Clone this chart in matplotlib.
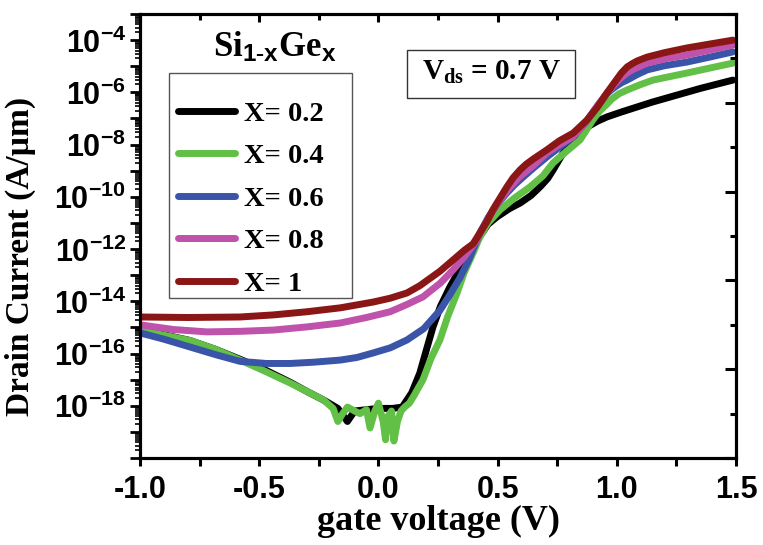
import numpy as np
import matplotlib
matplotlib.use("Agg")
from matplotlib import pyplot as plt
from matplotlib.patches import Rectangle
from matplotlib.ticker import FixedLocator, MultipleLocator, FuncFormatter, NullFormatter

plt.rcParams['mathtext.fontset'] = 'custom'
plt.rcParams['mathtext.rm'] = 'Liberation Serif:bold'
plt.rcParams['mathtext.bf'] = 'Liberation Serif:bold'
plt.rcParams['mathtext.sf'] = 'Liberation Sans:bold'
plt.rcParams['mathtext.it'] = 'Liberation Serif:bold:italic'

# log10 of drain current (A/um)
v_02 = [-1.0, -0.9, -0.79, -0.68, -0.58, -0.47, -0.37, -0.3, -0.23, -0.17, -0.13, -0.10, -0.05, 0.0,
        0.06, 0.10, 0.14, 0.174, 0.2, 0.229, 0.26, 0.3, 0.34, 0.384, 0.43, 0.46, 0.497, 0.55, 0.594, 0.64,
        0.678, 0.71, 0.733, 0.77, 0.804, 0.84, 0.875, 0.92, 0.959, 1.02, 1.085, 1.15, 1.223, 1.35, 1.487]
i_02 = [-15.1, -15.28, -15.5, -15.85, -16.22, -16.65, -17.1, -17.45, -17.78, -18.1, -18.6, -18.2, -18.15, -18.1,
        -18.1, -18.05, -17.5, -16.74, -15.9, -14.98, -14.2, -13.45, -12.8, -12.1, -11.45, -11.05, -10.77, -10.45, -10.24,
        -9.95, -9.62, -9.3, -8.97, -8.4, -7.94, -7.6, -7.33, -7.1, -6.94, -6.75, -6.56, -6.37, -6.18, -5.85, -5.53]

v_04 = [-1.0, -0.9, -0.79, -0.68, -0.58, -0.47, -0.37, -0.3, -0.23, -0.19, -0.17, -0.15, -0.13, -0.10,
        -0.077, -0.05, -0.035, -0.015, 0.0, 0.02, 0.03, 0.04, 0.055, 0.065, 0.08, 0.095, 0.11, 0.13, 0.15,
        0.187, 0.22, 0.258, 0.29, 0.33, 0.36, 0.397, 0.426, 0.46, 0.51, 0.57, 0.636, 0.69, 0.733, 0.79,
        0.846, 0.9, 0.93, 0.959, 0.98, 1.01, 1.043, 1.1, 1.152, 1.22, 1.294, 1.39, 1.487]
i_04 = [-15.1, -15.3, -15.5, -15.85, -16.25, -16.7, -17.13, -17.45, -17.78, -18.1, -18.6, -18.3, -18.05, -18.2,
        -18.3, -18.15, -18.85, -18.2, -17.9, -18.6, -19.3, -18.4, -18.2, -19.35, -18.6, -18.2, -18.05, -17.9, -17.6,
        -17.0, -16.2, -15.48, -14.6, -13.68, -12.9, -12.15, -11.53, -11.0, -10.5, -10.05, -9.62, -9.2, -8.7, -8.25,
        -7.82, -7.05, -6.7, -6.45, -6.25, -6.05, -5.91, -5.7, -5.53, -5.4, -5.26, -5.07, -4.88]

v_06 = [-1.0, -0.9, -0.79, -0.68, -0.58, -0.47, -0.37, -0.27, -0.16, -0.09, -0.023, 0.05, 0.12, 0.19,
        0.258, 0.30, 0.342, 0.38, 0.426, 0.46, 0.497, 0.539, 0.57, 0.6, 0.65, 0.707, 0.76, 0.817, 0.87, 0.92,
        0.959, 0.98, 1.0, 1.02, 1.043, 1.085, 1.127, 1.2, 1.294, 1.39, 1.487]
i_06 = [-15.21, -15.45, -15.75, -16.05, -16.3, -16.38, -16.38, -16.33, -16.25, -16.15, -15.98, -15.78, -15.48, -15.05,
        -14.35, -13.75, -13.1, -12.4, -11.38, -10.8, -10.3, -9.85, -9.55, -9.3, -8.9, -8.47, -8.1, -7.7, -7.15, -6.5,
        -6.05, -5.88, -5.75, -5.63, -5.53, -5.32, -5.14, -4.98, -4.84, -4.65, -4.45]

v_08 = [-1.0, -0.86, -0.72, -0.58, -0.44, -0.3, -0.16, -0.05, 0.049, 0.12, 0.187, 0.26, 0.313, 0.36,
        0.41, 0.426, 0.46, 0.49, 0.52, 0.55, 0.59, 0.65, 0.707, 0.76, 0.817, 0.87, 0.92, 0.959, 0.98, 1.0,
        1.02, 1.043, 1.065, 1.085, 1.127, 1.2, 1.294, 1.39, 1.487]
i_08 = [-14.9, -15.08, -15.17, -15.15, -15.1, -14.98, -14.83, -14.62, -14.4, -14.12, -13.83, -13.3, -12.8, -12.3,
        -11.7, -11.38, -10.85, -10.4, -10.0, -9.65, -9.25, -8.8, -8.32, -8.0, -7.7, -7.15, -6.5, -6.02, -5.8, -5.6,
        -5.42, -5.26, -5.13, -5.05, -4.88, -4.72, -4.57, -4.38, -4.19]

v_10 = [-1.0, -0.8, -0.58, -0.44, -0.30, -0.16, -0.023, 0.05, 0.12, 0.174, 0.258, 0.313, 0.36, 0.397,
        0.426, 0.455, 0.48, 0.51, 0.539, 0.565, 0.594, 0.62, 0.65, 0.707, 0.76, 0.817, 0.875, 0.92, 0.959,
        0.98, 1.0, 1.02, 1.043, 1.065, 1.085, 1.11, 1.127, 1.2, 1.294, 1.39, 1.487]
i_10 = [-14.6, -14.62, -14.6, -14.52, -14.4, -14.25, -14.03, -13.88, -13.68, -13.4, -12.85, -12.42, -12.05, -11.8,
        -11.38, -10.95, -10.5, -10.05, -9.62, -9.27, -8.97, -8.75, -8.55, -8.2, -7.85, -7.56, -7.06, -6.55, -6.02,
        -5.75, -5.5, -5.25, -5.03, -4.9, -4.8, -4.71, -4.65, -4.48, -4.3, -4.15, -4.0]

labels = ['X= 0.2', 'X= 0.4', 'X= 0.6', 'X= 0.8', 'X= 1']
colors = ['#000000', '#62c047', '#3a55a8', '#bf52aa', '#8b1616']

fig = plt.figure(figsize=(7.63, 5.45), dpi=100)
ax = fig.add_axes([0.1835, 0.1596, 0.7811, 0.8147])

series = [(v_02, i_02), (v_04, i_04), (v_06, i_06), (v_08, i_08), (v_10, i_10)]
for (v, i), lab, c in zip(series, labels, colors):
	ax.plot(v, 10**np.asarray(i), color=c, lw=5, label=lab,
	        solid_capstyle='round', solid_joinstyle='round')

ax.set_yscale('log')
ax.set_xlim(-1.0, 1.5)
ax.set_ylim(1e-20, 1e-3)

for s in ax.spines.values():
	s.set_linewidth(2.2)

ax.xaxis.set_major_locator(MultipleLocator(0.5))
ax.xaxis.set_minor_locator(MultipleLocator(0.25))
ax.xaxis.set_major_formatter(FuncFormatter(lambda x, p: '%.1f' % x))
ax.tick_params(axis='x', which='both', direction='out', length=6, width=2.2, top=False,
               labelsize=22, pad=6)
for t in ax.get_xticklabels():
	t.set_fontfamily('Liberation Sans')
	t.set_fontweight('bold')

ax.yaxis.set_major_locator(FixedLocator(10.0**np.arange(-20, -2)))
ax.yaxis.set_minor_locator(FixedLocator([m * 10.0**e for e in range(-20, -3) for m in range(2, 10)]))
ax.yaxis.set_minor_formatter(NullFormatter())
ax.yaxis.set_major_formatter(FuncFormatter(
	lambda y, p: r'$\mathsf{10^{%d}}$' % round(np.log10(y)) if round(np.log10(y)) % 2 == 0 and -19 < np.log10(y) < -3.5 else ''))
ax.tick_params(axis='y', which='major', direction='out', length=7, width=2, right=False,
               labelsize=22, pad=3)
ax.tick_params(axis='y', which='minor', direction='out', length=3.5, width=1.2, right=False)

# top ticks (inward)
axt = ax.twiny()
axt.set_xlim(ax.get_xlim())
axt.xaxis.set_major_locator(MultipleLocator(0.5))
axt.xaxis.set_minor_locator(MultipleLocator(0.25))
axt.tick_params(axis='x', which='major', direction='in', length=6, width=2.2, labeltop=False)
axt.tick_params(axis='x', which='minor', direction='in', length=4, width=2.2)

# right ticks (inward)
axr = ax.twinx()
axr.set_ylim(0, 1)
axr.yaxis.set_major_locator(MultipleLocator(0.2))
axr.yaxis.set_minor_locator(MultipleLocator(0.1))
axr.tick_params(axis='y', which='major', direction='in', length=8, width=2.2, labelright=False)
axr.tick_params(axis='y', which='minor', direction='in', length=4, width=2.2)
for a in (axt, axr):
	for s in a.spines.values():
		s.set_linewidth(2.2)

ax.set_xlabel('gate voltage (V)', fontfamily='Liberation Serif', fontweight='bold', fontsize=26, labelpad=0)
ax.set_ylabel('Drain Current (A/µm)', fontfamily='Liberation Serif', fontweight='bold', fontsize=24, labelpad=6)
ax.yaxis.set_label_coords(-0.175, 0.455)

leg = ax.legend(loc='upper left', bbox_to_anchor=(0.064, 0.804), frameon=False,
                prop={'family': 'Liberation Serif', 'weight': 'bold', 'size': 20.5},
                handlelength=2.0, handletextpad=0.3, labelspacing=0.58, borderpad=0,
                borderaxespad=0)
ax.add_patch(Rectangle((0.0487, 0.3604), 0.307, 0.5068, transform=ax.transAxes,
                       facecolor='none', edgecolor='#555555', linewidth=1.0, zorder=4))

ax.text(0.2265, 0.923, r'Si$_{\mathsf{1\text{-}x}}$Ge$_{\mathsf{x}}$', transform=ax.transAxes,
        fontfamily='Liberation Serif', fontweight='bold', fontsize=25, ha='center', va='center')

ax.add_patch(Rectangle((0.448, 0.811), 0.282, 0.108, transform=ax.transAxes,
                       facecolor='white', edgecolor='#333333', linewidth=1.0, zorder=4))
ax.text(0.589, 0.868, r'V$_{\mathbf{ds}}$ = 0.7 V', transform=ax.transAxes,
        fontfamily='Liberation Serif', fontweight='bold', fontsize=21, ha='center', va='center', zorder=5)

plt.savefig('out.png', dpi=100)
